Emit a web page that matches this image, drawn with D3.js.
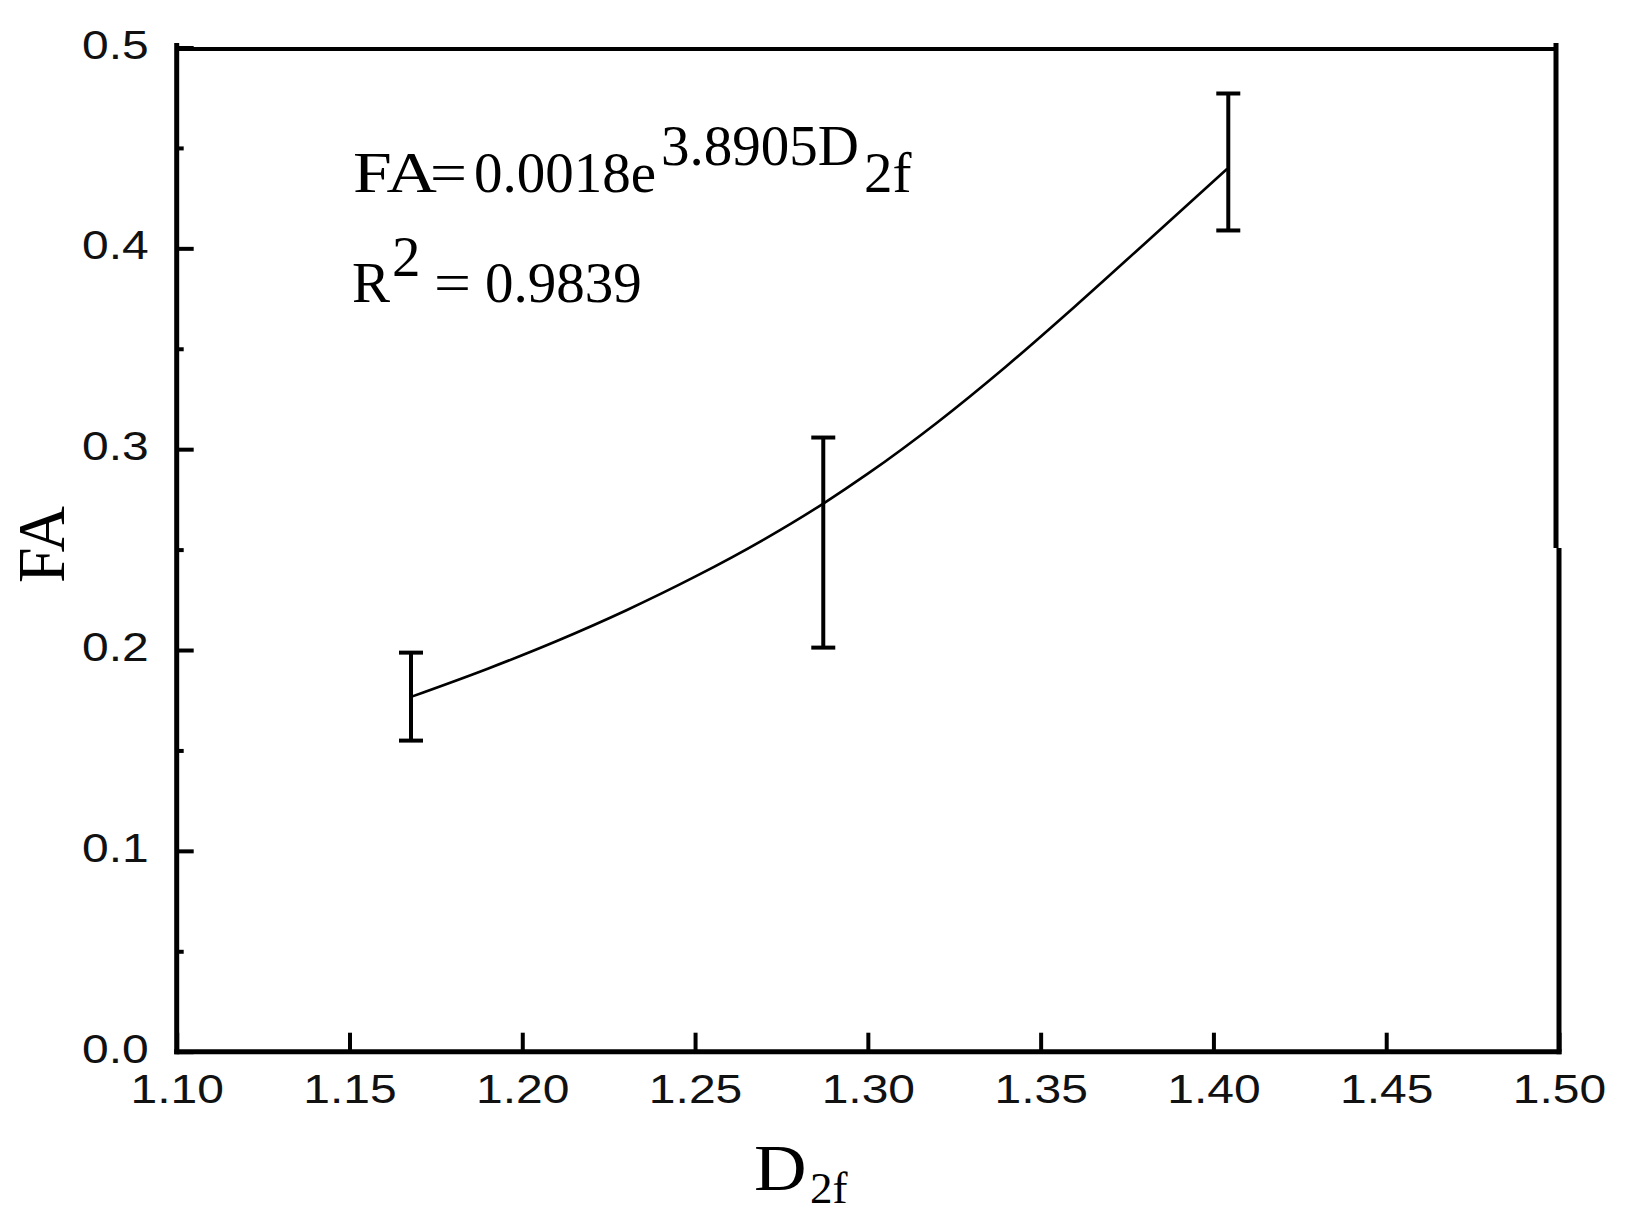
<!DOCTYPE html>
<html>
<head>
<meta charset="utf-8">
<script src="https://cdn.jsdelivr.net/npm/d3@7"></script>
<style>
  html, body { margin: 0; padding: 0; background: #fff; }
  svg { display: block; }
</style>
</head>
<body>
<svg id="chart" width="1626" height="1226"></svg>
<script>
// ---- data ----
const xTicks = [1.10, 1.15, 1.20, 1.25, 1.30, 1.35, 1.40, 1.45, 1.50];
const yTicks = [0.0, 0.1, 0.2, 0.3, 0.4, 0.5];
const yMinorTicks = [0.05, 0.15, 0.25, 0.35, 0.45];

// measured points (D2f, FA) with error bars
const pointX = [1.1678, 1.2871, 1.4043];
const pointY = [0.1768, 0.2734, 0.4397];
const errLow = [0.1549, 0.2012, 0.4089];
const errHigh = [0.1987, 0.3058, 0.4771];

// fitted curve
const fitX = [1.168, 1.190, 1.210, 1.230, 1.250, 1.270, 1.287, 1.300, 1.320, 1.340, 1.360, 1.380, 1.404];
const fitY = [0.1768, 0.1907, 0.2045, 0.2197, 0.2365, 0.2551, 0.2728, 0.2878, 0.3132, 0.3412, 0.3712, 0.4022, 0.4396];

const xLabelMain = "D";
const xLabelSub = "2f";
const yLabel = "FA";
const eqLine1 = ["FA", "=", "0.0018e", "3.8905D", "2f"];
const eqLine2 = ["R", "2", "=", "0.9839"];

// ---- drawing ----
const svg = d3.select("#chart");
svg.append("rect").attr("width", 1626).attr("height", 1226).attr("fill", "#fff");

const x = d3.scaleLinear().domain([1.10, 1.50]).range([176.7, 1559]);
const y = d3.scaleLinear().domain([0, 0.5]).range([1051.7, 47.5]);

const sansFont = "'Liberation Sans', Arial, sans-serif";
const serifFont = "'Liberation Serif', 'Times New Roman', serif";

// X axis (ticks inward)
const gx = svg.append("g")
  .attr("transform", `translate(0,${y(0)})`)
  .call(d3.axisBottom(x).tickValues(xTicks).tickSizeInner(-19).tickSizeOuter(0)
        .tickFormat(d3.format(".2f")));
gx.select(".domain").remove();
gx.selectAll(".tick line").attr("stroke", "#000").attr("stroke-width", 4);
gx.selectAll(".tick text")
  .attr("y", null).attr("dy", null)
  .attr("transform", "translate(0,51) scale(1.2,1)")
  .attr("text-anchor", "middle")
  .style("font-family", sansFont).style("font-size", "40px").attr("fill", "#111");

// Y axis major (ticks inward)
const gy = svg.append("g")
  .attr("transform", `translate(${x(1.10)},0)`)
  .call(d3.axisLeft(y).tickValues(yTicks).tickSizeInner(-17).tickSizeOuter(0)
        .tickFormat(d3.format(".1f")));
gy.select(".domain").remove();
gy.selectAll(".tick line").attr("stroke", "#000").attr("stroke-width", 4);
gy.selectAll(".tick text")
  .attr("x", null).attr("dy", null)
  .attr("transform", "translate(-28,10.5) scale(1.2,1)")
  .attr("text-anchor", "end")
  .style("font-family", sansFont).style("font-size", "40px").attr("fill", "#111");

// Y axis minor
const gym = svg.append("g")
  .attr("transform", `translate(${x(1.10)},0)`)
  .call(d3.axisLeft(y).tickValues(yMinorTicks).tickSizeInner(-7).tickSizeOuter(0).tickFormat(""));
gym.select(".domain").remove();
gym.selectAll(".tick line").attr("stroke", "#000").attr("stroke-width", 4);

// Frame
const x0 = x.range()[0], x1 = x.range()[1];
const yb = y.range()[0], yt = 49;
const frame = svg.append("g").attr("stroke", "#000").attr("fill", "none");
frame.append("line").attr("x1", x0).attr("x2", x0).attr("y1", yt - 6).attr("y2", yb + 2.5).attr("stroke-width", 5);
frame.append("line").attr("x1", x0 - 2.5).attr("x2", x1 + 2.5).attr("y1", yb).attr("y2", yb).attr("stroke-width", 5);
frame.append("line").attr("x1", x0).attr("x2", x1 - 3).attr("y1", yt).attr("y2", yt).attr("stroke-width", 4);
frame.append("line").attr("x1", x1 - 3).attr("x2", x1 - 3).attr("y1", yt - 6).attr("y2", 548).attr("stroke-width", 5);
frame.append("line").attr("x1", x1).attr("x2", x1).attr("y1", 548).attr("y2", yb + 2.5).attr("stroke-width", 5);

// Fit curve
const fitData = fitX.map((d, i) => [d, fitY[i]]);
svg.append("path")
  .datum(fitData)
  .attr("fill", "none").attr("stroke", "#000").attr("stroke-width", 2.6)
  .attr("d", d3.line().x(d => x(d[0])).y(d => y(d[1])).curve(d3.curveMonotoneX));

// Error bars
const eb = svg.append("g").attr("stroke", "#000").attr("stroke-width", 4);
pointX.forEach((px, i) => {
  eb.append("line").attr("x1", x(px)).attr("x2", x(px)).attr("y1", y(errLow[i])).attr("y2", y(errHigh[i]));
  eb.append("line").attr("x1", x(px) - 12).attr("x2", x(px) + 12).attr("y1", y(errLow[i])).attr("y2", y(errLow[i]));
  eb.append("line").attr("x1", x(px) - 12).attr("x2", x(px) + 12).attr("y1", y(errHigh[i])).attr("y2", y(errHigh[i]));
});

// Equation annotation
const eq = svg.append("g").style("font-family", serifFont).style("font-size", "57px").attr("fill", "#000");
eq.append("text").attr("x", 353).attr("y", 191.5)
  .attr("textLength", 84).attr("lengthAdjust", "spacingAndGlyphs").text(eqLine1[0]);
eq.append("text").attr("x", 430).attr("y", 191.5)
  .attr("textLength", 37).attr("lengthAdjust", "spacingAndGlyphs").text(eqLine1[1]);
eq.append("text").attr("x", 474).attr("y", 191.5).text(eqLine1[2]);
eq.append("text").attr("x", 661).attr("y", 165).text(eqLine1[3]);
eq.append("text").attr("x", 864).attr("y", 191.5).text(eqLine1[4]);

eq.append("text").attr("x", 352).attr("y", 301.7).text(eqLine2[0]);
eq.append("text").attr("x", 392).attr("y", 275.7).text(eqLine2[1]);
eq.append("text").attr("x", 434).attr("y", 301.7)
  .attr("textLength", 37).attr("lengthAdjust", "spacingAndGlyphs").text(eqLine2[2]);
eq.append("text").attr("x", 485).attr("y", 301.7).text(eqLine2[3]);

// Axis titles
svg.append("text")
  .attr("transform", "translate(754,1190) scale(1.12,1)")
  .style("font-family", serifFont).style("font-size", "65px").attr("fill", "#000")
  .text(xLabelMain);
svg.append("text")
  .attr("x", 810).attr("y", 1203)
  .style("font-family", serifFont).style("font-size", "45px").attr("fill", "#000")
  .text(xLabelSub);

svg.append("text")
  .attr("transform", "translate(64,544.5) rotate(-90) scale(1,1.05)")
  .attr("text-anchor", "middle")
  .style("font-family", serifFont).style("font-size", "64px").attr("fill", "#000")
  .text(yLabel);
</script>
</body>
</html>
